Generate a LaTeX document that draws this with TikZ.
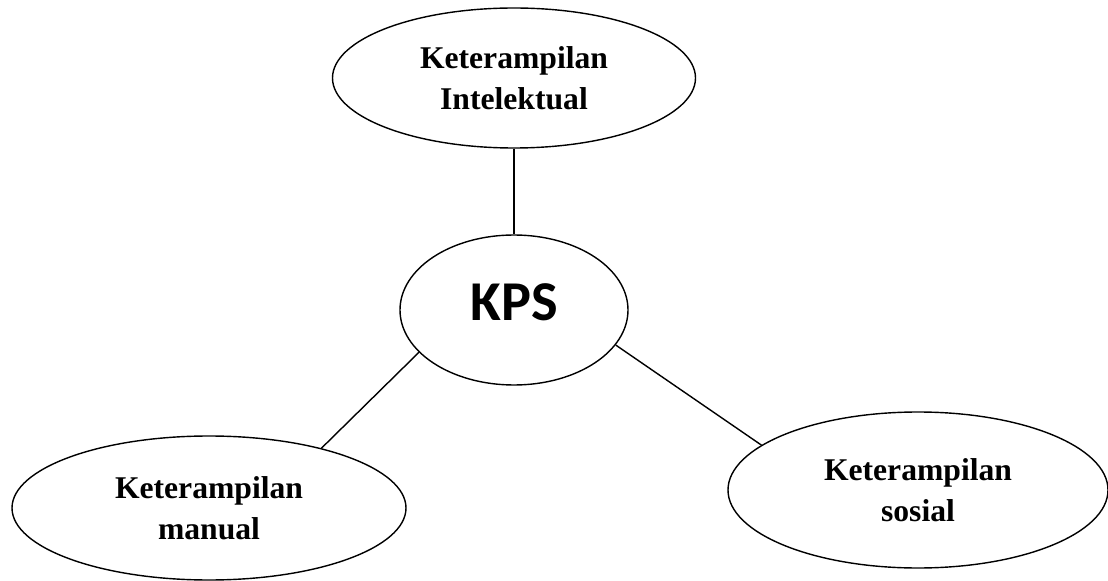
\documentclass[tikz,border=0pt]{standalone}
\usepackage{fontspec}
\setmainfont{Liberation Serif}
\newfontfamily\kpsfont{Carlito}
\usetikzlibrary{positioning,shapes}
\tikzstyle{skill} = [
ellipse,
draw=black,
line width=1pt,
inner sep=0pt,
font=\fontsize{22.5}{29}\selectfont\bfseries
]
\tikzstyle{core} = [
ellipse,
draw=black,
line width=1pt,
inner sep=0pt,
minimum width=5.7cm,
minimum height=3.75cm,
text depth=0.4cm,
font=\kpsfont\fontsize{40}{48}\selectfont\bfseries
]

\begin{document}
\begin{tikzpicture}[
	align=center,
	line width=1pt,
	on grid
	]
	\useasboundingbox (0,0) rectangle (27.7,-14.525);
	
	\node[core] (kps) at (12.85,-7.75) {KPS};
	
	\node[skill,above=5.8cm of kps,minimum width=9.075cm,minimum height=3.5cm] (intel) {Keterampilan\\Intelektual};
	\node[skill,below left=4.95cm and 7.625cm of kps,minimum width=9.85cm,minimum height=3.6cm] (manual) {Keterampilan\\manual};
	\node[skill,below right=4.5cm and 10.1cm of kps,minimum width=9.5cm,minimum height=3.9cm] (sosial) {Keterampilan\\sosial};
	
	\draw (intel) -- (kps);
	\draw (kps.204) -- (manual.28);
	\draw (kps.341) -- (sosial.164);
\end{tikzpicture}
\end{document}
